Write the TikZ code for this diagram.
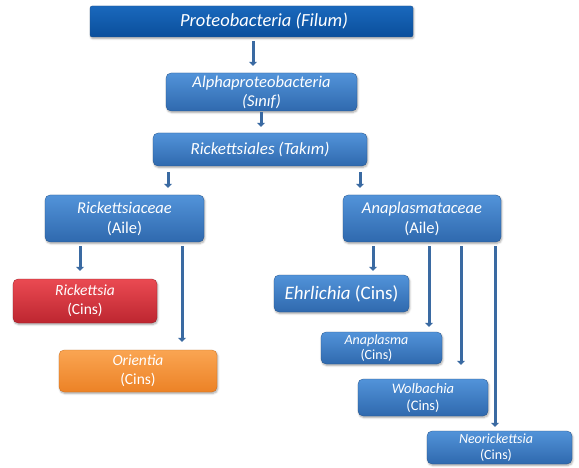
\documentclass[tikz,border=0pt]{standalone}
\usepackage{fontspec}
\setmainfont{Carlito}
\usetikzlibrary{arrows.meta,shadows.blur}
\definecolor{bluetop}{HTML}{5293D9}
\definecolor{bluebot}{HTML}{2F69AE}
\definecolor{redtop}{HTML}{EA4A52}
\definecolor{redbot}{HTML}{BD2630}
\definecolor{ortop}{HTML}{FAA552}
\definecolor{orbot}{HTML}{EC8226}
\definecolor{phtop}{HTML}{1A68BC}
\definecolor{phbot}{HTML}{0A4F9C}
\definecolor{arrcol}{HTML}{3A6AA2}
\tikzset{
  box/.style={rectangle, rounded corners=5pt, inner sep=0pt, align=center,
    text=white, font=\fontsize{16.5}{20}\selectfont,
    top color=bluetop, bottom color=bluebot, draw=bluebot!80!black, line width=0.3pt,
    blur shadow={shadow blur steps=6, shadow xshift=0.8pt, shadow yshift=-1.5pt, shadow opacity=35}},
  redbox/.style={box, top color=redtop, bottom color=redbot, draw=redbot!80!black},
  orbox/.style={box, top color=ortop, bottom color=orbot, draw=orbot!85!black},
  arr/.style={draw=arrcol, line width=3pt, -{Triangle[length=4pt,width=8pt]}},
}
\begin{document}
\begin{tikzpicture}[x=1pt,y=-1pt]
\useasboundingbox (0,0) rectangle (579,468);
\node[box, top color=phtop, bottom color=phbot, rounded corners=2pt, minimum width=323pt, minimum height=31pt,
  font=\fontsize{18.5}{20}\selectfont\itshape] (phy) at (251.5,21.5) {\hspace*{25pt}Proteobacteria (Filum)};
\node[box, minimum width=191pt, minimum height=38pt, font=\fontsize{16.5}{19}\selectfont\itshape] (cls) at (261.5,92) {Alphaproteobacteria\\(Sınıf)};
\node[box, minimum width=214pt, minimum height=33pt, font=\fontsize{17}{20}\selectfont\itshape] (ord) at (260,149.5) {Rickettsiales (Takım)};
\node[box, minimum width=159pt, minimum height=47pt] (fa1) at (124.5,218.5) {\textit{Rickettsiaceae}\\(Aile)};
\node[box, minimum width=158pt, minimum height=47pt] (fa2) at (422,218.5) {\textit{Anaplasmataceae}\\(Aile)};
\node[redbox, minimum width=144pt, minimum height=44pt, font=\fontsize{15.5}{19}\selectfont] (g1) at (85,301) {\textit{Rickettsia}\\(Cins)};
\node[orbox, minimum width=158pt, minimum height=42pt, font=\fontsize{15.5}{19}\selectfont] (g2) at (138,371) {\textit{Orientia}\\(Cins)};
\node[box, minimum width=135pt, minimum height=37pt, font=\fontsize{19}{22}\selectfont] (g3) at (341.5,293.5) {\textit{Ehrlichia} (Cins)};
\node[box, minimum width=121pt, minimum height=32pt, font=\fontsize{14}{15.5}\selectfont] (g4) at (381.5,348) {\textit{Anaplasma}\hspace*{10pt}\\(Cins)\hspace*{10pt}};
\node[box, minimum width=130pt, minimum height=37pt, font=\fontsize{14.5}{17}\selectfont] (g5) at (423,397.5) {\textit{Wolbachia}\\(Cins)};
\node[box, minimum width=145pt, minimum height=33pt, font=\fontsize{14}{16}\selectfont] (g6) at (499.5,447.5) {\textit{Neorickettsia}\hspace*{7pt}\\(Cins)\hspace*{7pt}};
\draw[arr, shorten <=4pt, shorten >=7pt] (phy.south -| 253,0) -- (cls.north -| 253,0);
\draw[arr, shorten <=1pt, shorten >=6pt] (cls.south -| 261,0) -- (ord.north -| 261,0);
\draw[arr, shorten <=6pt, shorten >=7pt] (ord.south -| 168,0) -- (fa1.north -| 168,0);
\draw[arr, shorten <=6pt, shorten >=7pt] (ord.south -| 360,0) -- (fa2.north -| 360,0);
\draw[arr, shorten <=4pt, shorten >=8pt] (fa1.south -| 80,0) -- (g1.north -| 80,0);
\draw[arr, shorten <=4pt, shorten >=8pt] (fa1.south -| 182,0) -- (g2.north -| 182,0);
\draw[arr, shorten <=4pt, shorten >=4pt] (fa2.south -| 373,0) -- (g3.north -| 373,0);
\draw[arr, shorten <=4pt, shorten >=5pt] (fa2.south -| 429,0) -- (g4.north -| 429,0);
\draw[arr, shorten <=4pt, shorten >=14pt] (fa2.south -| 461,0) -- (g5.north -| 461,0);
\draw[arr, shorten <=4pt, shorten >=4pt] (fa2.south -| 495,0) -- (g6.north -| 495,0);
\end{tikzpicture}
\end{document}
